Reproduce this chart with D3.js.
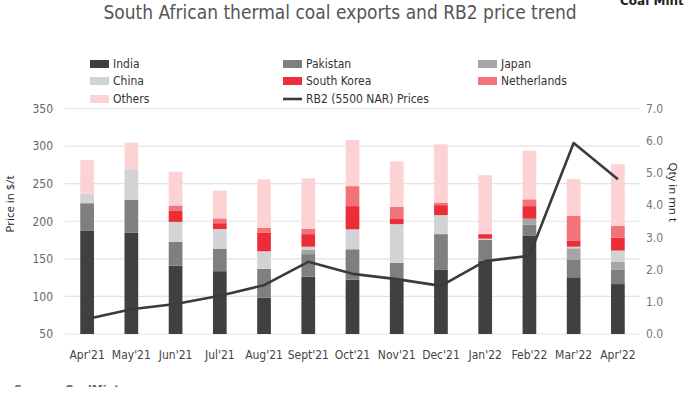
<!DOCTYPE html>
<html>
<head>
<meta charset="utf-8">
<script src="https://cdn.jsdelivr.net/npm/d3@7"></script>
<style>
  body { margin: 0; background: #fff; }
  svg { display: block; }
  .cond { font-family: "DejaVu Sans", sans-serif; font-stretch: condensed; }
</style>
</head>
<body>
<svg id="chart" width="685" height="398"></svg>
<script>
// Chart data (qty in mn t per destination, price in $/t)
const months = ["Apr'21", "May'21", "Jun'21", "Jul'21", "Aug'21", "Sept'21", "Oct'21", "Nov'21", "Dec'21", "Jan'22", "Feb'22", "Mar'22", "Apr'22"];
const india = [3.20, 3.14, 2.12, 1.95, 1.13, 1.78, 1.69, 1.73, 1.99, 2.28, 3.06, 1.76, 1.55];
const pakistan = [0.86, 1.02, 0.74, 0.69, 0.89, 0.70, 0.94, 0.48, 1.11, 0.64, 0.34, 0.54, 0.44];
const japan = [0, 0, 0, 0, 0, 0.13, 0, 0, 0, 0, 0.18, 0.36, 0.25];
const china = [0.30, 0.95, 0.62, 0.62, 0.55, 0.10, 0.62, 1.20, 0.59, 0.04, 0, 0.05, 0.35];
const southKorea = [0, 0, 0.34, 0.18, 0.57, 0.39, 0.72, 0.18, 0.31, 0.14, 0.39, 0.18, 0.40];
const netherlands = [0, 0, 0.17, 0.15, 0.16, 0.17, 0.62, 0.36, 0.08, 0, 0.21, 0.78, 0.37];
const others = [1.04, 0.83, 1.05, 0.86, 1.50, 1.56, 1.43, 1.41, 1.81, 1.83, 1.51, 1.14, 1.91];
const rb2Price = [70, 83, 90, 101, 115, 146, 130, 123, 114, 147, 154, 304, 256];

const seriesNames = ["India", "Pakistan", "Japan", "China", "South Korea", "Netherlands", "Others"];
const seriesValues = [india, pakistan, japan, china, southKorea, netherlands, others];
const seriesColors = ["#404040", "#7f7f7f", "#a5a5a5", "#d2d3d5", "#ec2c36", "#f27479", "#fdd2d4"];
const leftTicks = [50, 100, 150, 200, 250, 300, 350];
const rightTicks = [0, 1, 2, 3, 4, 5, 6, 7];

const svg = d3.select("#chart");
const margin = { left: 65, right: 45, top: 108.5, bottom: 64 };
const width = 685, height = 398;

const x = d3.scaleBand().domain(months).range([margin.left, width - margin.right]).paddingInner(0.69).paddingOuter(0.345);
const yPrice = d3.scaleLinear().domain([50, 350]).range([height - margin.bottom, margin.top]);
const yQty = d3.scaleLinear().domain([0, 7]).range([height - margin.bottom, margin.top]);

// Gridlines
svg.append("g")
  .selectAll("line")
  .data(leftTicks)
  .join("line")
  .attr("x1", margin.left)
  .attr("x2", width - margin.right)
  .attr("y1", d => yPrice(d))
  .attr("y2", d => yPrice(d))
  .attr("stroke", "#e3e3e3")
  .attr("stroke-width", 1.2);

// Left axis
const leftAxis = svg.append("g")
  .attr("transform", `translate(${margin.left - 12},0)`)
  .call(d3.axisLeft(yPrice).tickValues(leftTicks).tickSize(0).tickPadding(0));
leftAxis.select(".domain").remove();
leftAxis.selectAll("text").attr("class", "cond").attr("font-size", 12).attr("fill", "#666");

// Right axis
const rightAxis = svg.append("g")
  .attr("transform", `translate(${width - margin.right + 6},0)`)
  .call(d3.axisRight(yQty).tickValues(rightTicks).tickFormat(d3.format(".1f")).tickSize(0).tickPadding(0));
rightAxis.select(".domain").remove();
rightAxis.selectAll("text").attr("class", "cond").attr("font-size", 12).attr("fill", "#777");

// Stacked bars
const rows = months.map((m, i) => {
  const row = { month: m };
  seriesNames.forEach((s, j) => { row[s] = seriesValues[j][i]; });
  return row;
});
const stacked = d3.stack().keys(seriesNames)(rows);

svg.append("g")
  .selectAll("g")
  .data(stacked)
  .join("g")
  .attr("fill", (d, i) => seriesColors[i])
  .selectAll("rect")
  .data(d => d)
  .join("rect")
  .attr("x", d => x(d.data.month))
  .attr("width", x.bandwidth())
  .attr("y", d => yQty(d[1]))
  .attr("height", d => yQty(d[0]) - yQty(d[1]));

// Price line
const line = d3.line()
  .x((d, i) => x(months[i]) + x.bandwidth() / 2)
  .y(d => yPrice(d));

svg.append("path")
  .datum(rb2Price)
  .attr("d", line)
  .attr("fill", "none")
  .attr("stroke", "#3b3b3b")
  .attr("stroke-width", 2.6)
  .attr("stroke-linejoin", "round");

// X axis labels
const xAxis = svg.append("g")
  .attr("transform", `translate(0,${height - margin.bottom + 16})`)
  .call(d3.axisBottom(x).tickSize(0).tickPadding(0));
xAxis.select(".domain").remove();
xAxis.selectAll("text").attr("class", "cond").attr("font-size", 12).attr("fill", "#444");

// Axis titles
svg.append("text")
  .attr("transform", `translate(14,${yPrice(223)}) rotate(-90)`)
  .attr("text-anchor", "middle")
  .attr("font-family", "Open Sans, sans-serif")
  .attr("font-size", 11.5)
  .attr("fill", "#222")
  .text("Price in $/t");

svg.append("text")
  .attr("transform", `translate(669,${yQty(4.4)}) rotate(90)`)
  .attr("text-anchor", "middle")
  .attr("font-family", "Open Sans, sans-serif")
  .attr("font-size", 11.5)
  .attr("fill", "#222")
  .text("Qty in mn t");

// Title
svg.append("text")
  .attr("x", 340)
  .attr("y", 19)
  .attr("text-anchor", "middle")
  .attr("class", "cond")
  .attr("font-size", 19)
  .attr("fill", "#555")
  .text("South African thermal coal exports and RB2 price trend");

// Cut-off branding text
svg.append("text")
  .attr("x", 620)
  .attr("y", 5)
  .attr("font-family", "DejaVu Sans, sans-serif")
  .attr("font-weight", "bold")
  .attr("font-size", 12)
  .attr("fill", "#222")
  .text("Coal Mint");

svg.append("defs").append("clipPath").attr("id", "srcClip")
  .append("rect").attr("x", 0).attr("y", 0).attr("width", 685).attr("height", 387);
svg.append("text")
  .attr("x", 14)
  .attr("y", 393)
  .attr("clip-path", "url(#srcClip)")
  .attr("font-family", "DejaVu Sans, sans-serif")
  .attr("font-weight", "bold")
  .attr("font-size", 11)
  .attr("fill", "#666")
  .text("Source: CoalMint");

// Legend
const legendItems = seriesNames.map((s, i) => ({ name: s, color: seriesColors[i], type: "bar" }))
  .concat([{ name: "RB2 (5500 NAR) Prices", color: "#3b3b3b", type: "line" }]);
const legendCols = [90, 283, 478];
const legendRows = [64, 81, 99];

const legend = svg.append("g")
  .selectAll("g")
  .data(legendItems)
  .join("g")
  .attr("transform", (d, i) => `translate(${legendCols[i % 3]},${legendRows[Math.floor(i / 3)]})`);

legend.filter(d => d.type === "bar")
  .append("rect")
  .attr("x", 0).attr("y", -4).attr("width", 19).attr("height", 8)
  .attr("fill", d => d.color);
legend.filter(d => d.type === "line")
  .append("line")
  .attr("x1", 0).attr("x2", 19).attr("y1", 0).attr("y2", 0)
  .attr("stroke", d => d.color).attr("stroke-width", 2.6);
legend.append("text")
  .attr("x", 23)
  .attr("dy", "0.35em")
  .attr("class", "cond")
  .attr("font-size", 12)
  .attr("fill", "#333")
  .text(d => d.name);
</script>
</body>
</html>
